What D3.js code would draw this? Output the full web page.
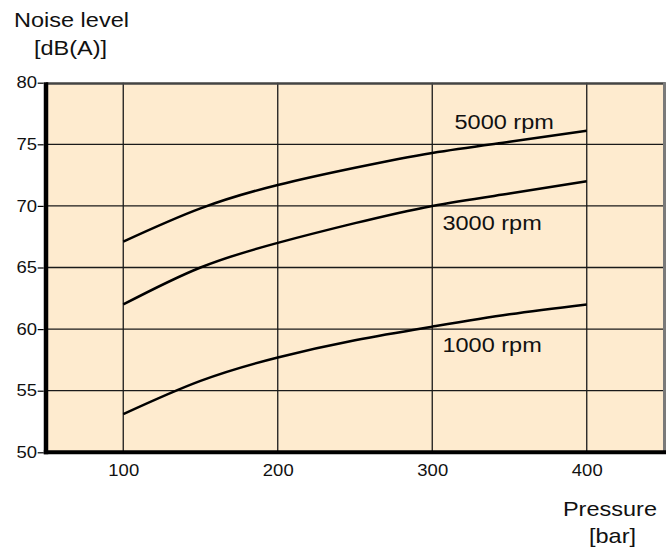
<!DOCTYPE html>
<html><head><meta charset="utf-8">
<script src="https://cdn.jsdelivr.net/npm/d3@7"></script>
<style>body{margin:0;background:#fff;} svg{display:block;} text{font-family:"Liberation Sans",Arial,sans-serif;fill:#111;}</style>
</head><body>
<svg id="c" width="670" height="547"></svg>
<script>
const pressures = [100, 150, 200, 250, 300, 350, 400];
const rpm5000 = [67.1, 69.8, 71.7, 73.1, 74.3, 75.2, 76.1];
const rpm3000 = [62.0, 65.0, 67.0, 68.6, 70.0, 71.0, 72.0];
const rpm1000 = [53.1, 55.8, 57.7, 59.1, 60.2, 61.2, 62.0];
const seriesNames = ["5000 rpm", "3000 rpm", "1000 rpm"];
const seriesValues = [rpm5000, rpm3000, rpm1000];
const labelPos = [[314.4, 76.24], [306.6, 68.04], [306.6, 58.14]];
const xTicks = [100, 200, 300, 400];
const yTicks = [50, 55, 60, 65, 70, 75, 80];

const SX = 1.12; // horizontal stretch of the lettering
const svg = d3.select("#c");
const L = 46, R = 664, T = 82.7, B = 452.3;
const x = d3.scaleLinear().domain([50, 450]).range([L, R]);
const y = d3.scaleLinear().domain([50, 80]).range([B, T]);

svg.append("rect").attr("x", L).attr("y", T).attr("width", R - L).attr("height", B - T).attr("fill", "#FEEBCF");

// grid
svg.append("g").selectAll("line").data(xTicks).join("line")
  .attr("x1", d => x(d)).attr("x2", d => x(d)).attr("y1", T).attr("y2", B)
  .attr("stroke", "#1a1a1a").attr("stroke-width", 1.3);
svg.append("g").selectAll("line").data(yTicks.filter(d => d > 50 && d < 80)).join("line")
  .attr("x1", L).attr("x2", R).attr("y1", d => y(d)).attr("y2", d => y(d))
  .attr("stroke", "#1a1a1a").attr("stroke-width", 1.3);

// borders
svg.append("line").attr("x1", L).attr("x2", R + 1.5).attr("y1", T + 0.8).attr("y2", T + 0.8).attr("stroke", "#444").attr("stroke-width", 2.5);
svg.append("line").attr("x1", R + 0.5).attr("x2", R + 0.5).attr("y1", T - 0.5).attr("y2", B).attr("stroke", "#7a7a7a").attr("stroke-width", 3);
svg.append("line").attr("x1", L).attr("x2", L).attr("y1", T - 0.5).attr("y2", B + 2).attr("stroke", "#000").attr("stroke-width", 4.5);
svg.append("line").attr("x1", L - 2.2).attr("x2", R + 2).attr("y1", B).attr("y2", B).attr("stroke", "#000").attr("stroke-width", 4);

// y axis
const yAxis = d3.axisLeft(y).tickValues(yTicks).tickSize(6).tickPadding(0);
const gy = svg.append("g").attr("transform", `translate(${L - 2.3},0)`).call(yAxis);
gy.select(".domain").remove();
gy.selectAll(".tick line").attr("stroke", "#000").attr("stroke-width", 1.2);
gy.selectAll("text").attr("font-size", 16.5).attr("fill", "#111")
  .attr("font-family", "Liberation Sans, Arial, sans-serif").attr("transform", `scale(${SX},1)`);

// x axis
const xAxis = d3.axisBottom(x).tickValues(xTicks).tickSize(0).tickPadding(10);
const gx = svg.append("g").attr("transform", `translate(0,${B + 2})`).call(xAxis);
gx.select(".domain").remove();
gx.selectAll("text").attr("font-size", 16.5).attr("fill", "#111")
  .attr("font-family", "Liberation Sans, Arial, sans-serif").attr("transform", `scale(${SX},1)`);

// curves
const line = d3.line().x((d, i) => x(pressures[i])).y(d => y(d)).curve(d3.curveNatural);
svg.append("g").selectAll("path").data(seriesValues).join("path")
  .attr("d", d => line(d)).attr("fill", "none").attr("stroke", "#000").attr("stroke-width", 2.5);

svg.append("g").selectAll("text").data(seriesNames).join("text")
  .attr("transform", (d, i) => `translate(${x(labelPos[i][0])},${y(labelPos[i][1])}) scale(${SX},1)`)
  .attr("font-size", 21).text(d => d);

// axis titles
function title(txt, px, py, anchor) {
  svg.append("text").attr("transform", `translate(${px},${py}) scale(${SX},1)`)
    .attr("font-size", 21).attr("text-anchor", anchor).text(txt);
}
title("Noise level", 14, 26.7, "start");
title("[dB(A)]", 34, 55, "start");
title("Pressure", 657, 516, "end");
title("[bar]", 589, 542.5, "start");
</script>
</body></html>
